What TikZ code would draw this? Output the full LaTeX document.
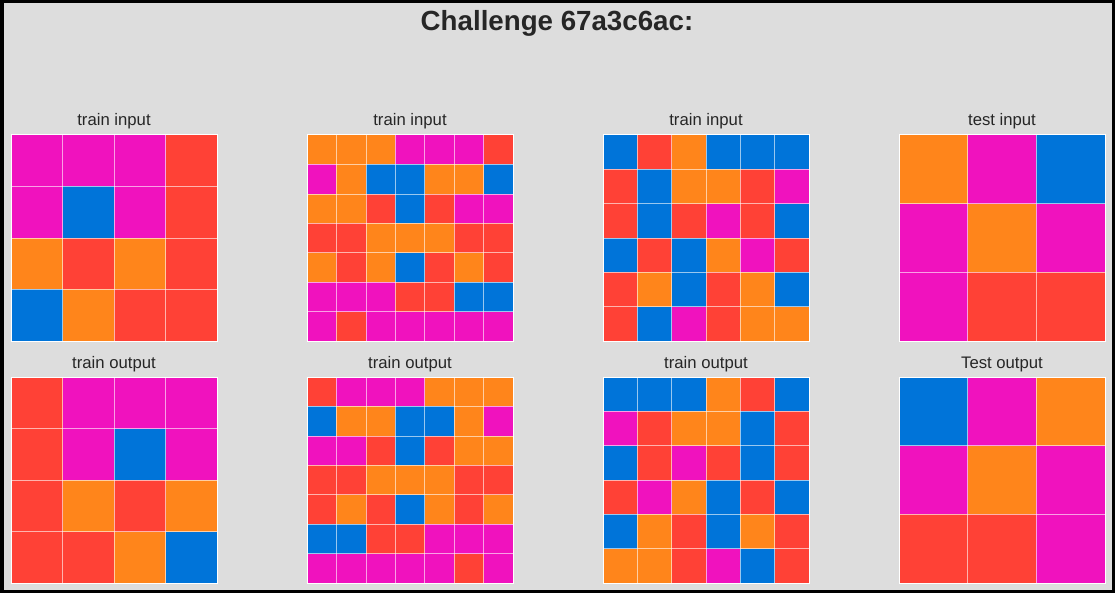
\documentclass[tikz,border=0pt]{standalone}
\usepackage{fontspec}
\setmainfont{Liberation Sans}
\definecolor{cB}{HTML}{0074D9}
\definecolor{cR}{HTML}{FF4136}
\definecolor{cO}{HTML}{FF851B}
\definecolor{cM}{HTML}{F012BE}
\definecolor{bg}{HTML}{DDDDDD}
\definecolor{txt}{HTML}{262626}
\newcommand\arcgrid[4]{%
  \pgfmathsetmacro\cs{206/#3}%
  \pgfmathtruncatemacro\nm{#3-1}%
  \foreach \row [count=\i] in {#4} {
    \foreach \cc [count=\j] in \row {
      \fill[c\cc] ({#1+(\j-1)*\cs},{#2+(\i-1)*\cs}) rectangle ++(\cs,\cs);
    }
  }
  \foreach \k in {1,...,\nm} {
    \draw[gline] ({#1+\k*\cs},#2) -- ++(0,206);
    \draw[gline] (#1,{#2+\k*\cs}) -- ++(206,0);
  }
  \draw[white, line width=1] (#1,#2) rectangle ++(206,206);
}
\tikzset{
  gline/.style={white, opacity=0.6, line width=0.6},
  lbl/.style={text=txt, font=\fontsize{16.7}{20}\selectfont, inner sep=0, anchor=base},
}
\begin{document}
\begin{tikzpicture}[x=1pt,y=-1pt]
\useasboundingbox (0,0) rectangle (1115,593);
\fill[bg] (0,0) rectangle (1115,593);
\draw[black, line width=3.5] (1.75,1.75) rectangle (1113.25,591.25);
\node[text=txt, font=\bfseries\fontsize{27.7}{32}\selectfont, inner sep=0, anchor=base] (title) at (557,30.5) {Challenge 67a3c6ac:};

\node[lbl] (l1) at (114,126) {train input};
\node[lbl] (l2) at (410,126) {train input};
\node[lbl] (l3) at (706,126) {train input};
\node[lbl] (l4) at (1002,126) {test input};
\node[lbl] (l5) at (114,368) {train output};
\node[lbl] (l6) at (410,368) {train output};
\node[lbl] (l7) at (706,368) {train output};
\node[lbl] (l8) at (1002,368) {Test output};

\arcgrid{11}{135}{4}{{M,M,M,R},{M,B,M,R},{O,R,O,R},{B,O,R,R}}
\arcgrid{11}{377}{4}{{R,M,M,M},{R,M,B,M},{R,O,R,O},{R,R,O,B}}

\arcgrid{307}{135}{7}{{O,O,O,M,M,M,R},{M,O,B,B,O,O,B},{O,O,R,B,R,M,M},{R,R,O,O,O,R,R},{O,R,O,B,R,O,R},{M,M,M,R,R,B,B},{M,R,M,M,M,M,M}}
\arcgrid{307}{377}{7}{{R,M,M,M,O,O,O},{B,O,O,B,B,O,M},{M,M,R,B,R,O,O},{R,R,O,O,O,R,R},{R,O,R,B,O,R,O},{B,B,R,R,M,M,M},{M,M,M,M,M,R,M}}

\arcgrid{603}{135}{6}{{B,R,O,B,B,B},{R,B,O,O,R,M},{R,B,R,M,R,B},{B,R,B,O,M,R},{R,O,B,R,O,B},{R,B,M,R,O,O}}
\arcgrid{603}{377}{6}{{B,B,B,O,R,B},{M,R,O,O,B,R},{B,R,M,R,B,R},{R,M,O,B,R,B},{B,O,R,B,O,R},{O,O,R,M,B,R}}

\arcgrid{899}{135}{3}{{O,M,B},{M,O,M},{M,R,R}}
\arcgrid{899}{377}{3}{{B,M,O},{M,O,M},{R,R,M}}
\end{tikzpicture}
\end{document}
